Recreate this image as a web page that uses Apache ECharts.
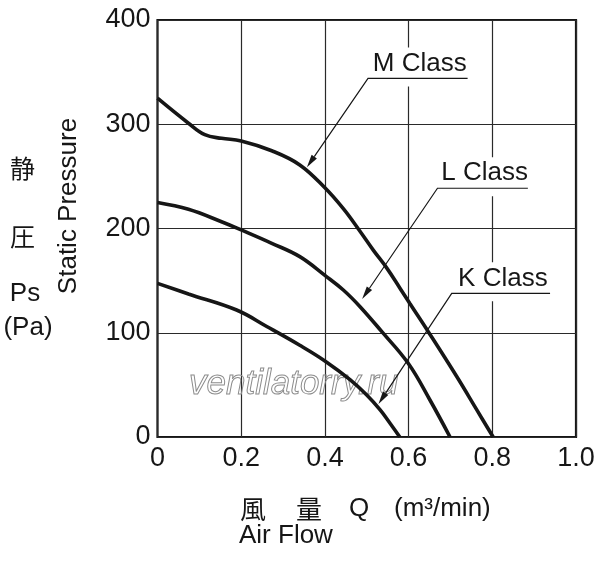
<!DOCTYPE html>
<html>
<head>
<meta charset="utf-8">
<script src="https://cdn.jsdelivr.net/npm/echarts@6/dist/echarts.min.js"></script>
<style>html,body{margin:0;padding:0;background:#fff;}#c{width:600px;height:562px;}</style>
</head>
<body>
<div id="c"></div>
<script>
// ---- data ----
const seriesNames = ['M Class', 'L Class', 'K Class'];
const qM = [0, 0.074, 0.113, 0.153, 0.2, 0.273, 0.34, 0.4, 0.444, 0.48, 0.516, 0.548, 0.579, 0.603, 0.647, 0.715, 0.763, 0.802];
const pM = [325, 301, 290, 286.5, 284, 274.6, 261, 239, 219, 199.5, 179, 162, 143, 128, 101, 58, 26, 0];
const qL = [0, 0.074, 0.153, 0.2, 0.273, 0.34, 0.4, 0.444, 0.484, 0.536, 0.599, 0.651, 0.699];
const pL = [225, 218.4, 206.5, 198.6, 185.8, 173, 155, 141, 125, 101, 70.7, 35.5, 0];
const qK = [0, 0.074, 0.189, 0.261, 0.34, 0.4, 0.46, 0.5, 0.532, 0.556, 0.579];
const pK = [147.4, 137.2, 121.8, 106, 88, 73, 55, 40.3, 26, 13, 0];

// annotation anchors (data space): underline left/right, underline level, arrow tip
const annUnderLeftQ = [0.503, 0.669, 0.703];
const annUnderRightQ = [0.741, 0.885, 0.938];
const annUnderP = [344, 238.6, 137.8];
const annTipQ = [0.357, 0.489, 0.528];
const annTipP = [258.7, 132.4, 31.7];

const xTicks = [0, 0.2, 0.4, 0.6, 0.8, 1.0];
const yTicks = [0, 100, 200, 300, 400];

const LATIN = '"Liberation Sans", Arial, Helvetica, sans-serif';
const CJK = '"Noto Sans CJK JP", sans-serif';
const INK = '#161616';

function zip(q, p) { return q.map((v, i) => [v, p[i]]); }

const annData = annUnderLeftQ.map((v, i) => [v, annUnderP[i], annUnderRightQ[i], annTipQ[i], annTipP[i]]);

function renderAnn(params, api) {
  const i = params.dataIndex;
  const L = api.coord([api.value(0), api.value(1)]);
  const R = api.coord([api.value(2), api.value(1)]);
  const T = api.coord([api.value(3), api.value(4)]);
  const dx = T[0] - L[0], dy = T[1] - L[1];
  const len = Math.sqrt(dx * dx + dy * dy);
  const ux = dx / len, uy = dy / len;
  const aLen = 13, aW = 3.2;
  const bx = T[0] - ux * aLen, by = T[1] - uy * aLen;
  const px = -uy, py = ux;
  return {
    type: 'group',
    children: [
      { type: 'rect', shape: { x: L[0] - 2, y: L[1] - 31, width: R[0] - L[0] + 4, height: 39 },
        style: { fill: '#fff' } },
      { type: 'text', x: (L[0] + R[0]) / 2 + 2, y: L[1] - 15,
        style: { text: seriesNames[i], font: '26px ' + LATIN, fill: INK, align: 'center', verticalAlign: 'middle' } },
      { type: 'polyline', shape: { points: [[R[0], R[1]], [L[0], L[1]], [bx, by]] },
        style: { stroke: INK, lineWidth: 1.2, fill: null } },
      { type: 'polygon', shape: { points: [[T[0], T[1]], [bx + px * aW, by + py * aW], [bx - px * aW, by - py * aW]] },
        style: { fill: INK } }
    ]
  };
}

const chart = echarts.init(document.getElementById('c'), null, { renderer: 'canvas' });
const lineStyle = { color: INK, width: 3.6 };
chart.setOption({
  animation: false,
  backgroundColor: '#fff',
  grid: { left: 157.5, right: 24, top: 20, bottom: 125, show: true, borderColor: INK, borderWidth: 2.2, backgroundColor: 'transparent' },
  xAxis: {
    type: 'value', min: xTicks[0], max: xTicks[xTicks.length - 1], interval: 0.2,
    axisLine: { show: false }, axisTick: { show: false },
    splitLine: { show: true, lineStyle: { color: '#2a2a2a', width: 1.2 } },
    axisLabel: { margin: 8, fontSize: 27, color: INK, fontFamily: LATIN,
      formatter: v => (v === 0 ? '0' : v.toFixed(1)) }
  },
  yAxis: {
    type: 'value', min: yTicks[0], max: yTicks[yTicks.length - 1], interval: 100,
    axisLine: { show: false }, axisTick: { show: false },
    splitLine: { show: true, lineStyle: { color: '#2a2a2a', width: 1.2 } },
    axisLabel: { margin: 7, fontSize: 27, color: INK, fontFamily: LATIN }
  },
  graphic: [
    { type: 'text', x: 22.5, y: 168.5, style: { text: '静', font: '25px ' + CJK, fill: INK, align: 'center', verticalAlign: 'middle' } },
    { type: 'text', x: 22.5, y: 236.5, style: { text: '圧', font: '25px ' + CJK, fill: INK, align: 'center', verticalAlign: 'middle' } },
    { type: 'text', x: 25, y: 294, style: { text: 'Ps', font: '26px ' + LATIN, fill: INK, align: 'center', verticalAlign: 'middle' } },
    { type: 'text', x: 28, y: 328, style: { text: '(Pa)', font: '26px ' + LATIN, fill: INK, align: 'center', verticalAlign: 'middle' } },
    { type: 'text', x: 69, y: 206, rotation: Math.PI / 2, style: { text: 'Static Pressure', font: '26px ' + LATIN, fill: INK, align: 'center', verticalAlign: 'middle' } },
    { type: 'text', x: 240, y: 509, style: { text: '風', font: '26px ' + CJK, fill: INK, align: 'left', verticalAlign: 'middle' } },
    { type: 'text', x: 296, y: 509, style: { text: '量', font: '26px ' + CJK, fill: INK, align: 'left', verticalAlign: 'middle' } },
    { type: 'text', x: 349, y: 509, style: { text: 'Q', font: '26px ' + LATIN, fill: INK, align: 'left', verticalAlign: 'middle' } },
    { type: 'text', x: 394, y: 509, style: { text: '(m³/min)', font: '26px ' + LATIN, fill: INK, align: 'left', verticalAlign: 'middle' } },
    { type: 'text', x: 239, y: 536, style: { text: 'Air Flow', font: '26px ' + LATIN, fill: INK, align: 'left', verticalAlign: 'middle' } },
    { type: 'text', x: 189, y: 384, z: 1, style: { text: 'ventilatorry.ru', font: 'italic 35px ' + LATIN, fill: 'rgba(255,255,255,0)', stroke: '#8c8c8c', lineWidth: 1, align: 'left', verticalAlign: 'middle' } }
  ],
  series: [
    { type: 'custom', name: 'labels', coordinateSystem: 'cartesian2d', renderItem: renderAnn, data: annData,
      encode: { x: [0, 2, 3], y: [1, 4] }, clip: false, z: 2, silent: true },
    { type: 'line', name: seriesNames[0], data: zip(qM, pM), smooth: 0.4, showSymbol: false, lineStyle: lineStyle, z: 5 },
    { type: 'line', name: seriesNames[1], data: zip(qL, pL), smooth: 0.4, showSymbol: false, lineStyle: lineStyle, z: 5 },
    { type: 'line', name: seriesNames[2], data: zip(qK, pK), smooth: 0.4, showSymbol: false, lineStyle: lineStyle, z: 5 }
  ]
});
</script>
</body>
</html>
